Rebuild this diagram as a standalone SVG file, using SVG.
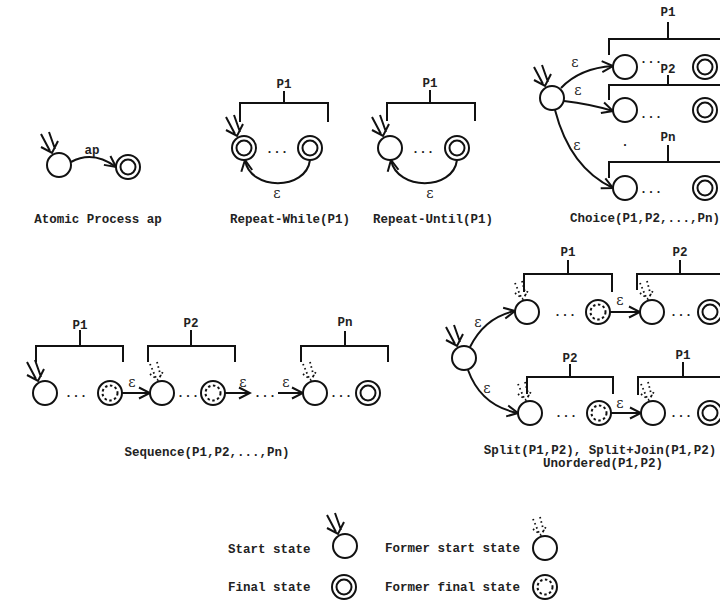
<svg xmlns="http://www.w3.org/2000/svg" xmlns:xlink="http://www.w3.org/1999/xlink" width="720" height="600" viewBox="0 0 720 600">
<style>
.s{fill:none;stroke:#111;stroke-width:2}
.w{fill:#fff;stroke:#111;stroke-width:2}
.d{fill:none;stroke:#111;stroke-width:2;stroke-dasharray:2.5 2.5}
.dm{fill:none;stroke:#111;stroke-width:1.8;stroke-dasharray:1.6 2.8}
.t{font-family:"Liberation Mono","Courier New",monospace;font-weight:bold;font-size:12.5px;fill:#222}
.c{text-anchor:middle}
.e{font-family:"DejaVu Serif","Liberation Serif",serif;font-size:14px;fill:#222;text-anchor:middle}
</style>
<defs>
<marker id="a" markerWidth="14" markerHeight="14" refX="12" refY="7" orient="auto" markerUnits="userSpaceOnUse"><path d="M1,1.5 L12,7 L1,12.5" fill="none" stroke="#111" stroke-width="2"/></marker>
<path id="sm" class="s" d="M-18,-31 L-9,-14 M-10,-33 L-4,-16 M-18,-18 L-7,-12 L-1,-24"/>
<path id="fm" class="dm" d="M-12,-29 L-6,-15 M-5,-31 L-1,-16 M-12,-19 L-4,-13 L2,-23"/>
<g id="pl"><circle r="12" class="w"/></g>
<g id="ss"><use xlink:href="#sm"/><circle r="12" class="w"/></g>
<g id="fs"><circle r="12" class="w"/><circle r="7.5" class="s"/></g>
<g id="sfs"><use xlink:href="#sm"/><circle r="12" class="w"/><circle r="7.5" class="s"/></g>
<g id="fss"><use xlink:href="#fm"/><circle r="12" class="w"/></g>
<g id="ffs"><circle r="12" class="w"/><circle r="7.5" class="d"/></g>
</defs>
<rect width="720" height="600" fill="#fff"/>

<g id="brackets">
<path class="s" d="M240,122 V103 H328 V122 M284,103 V91"/>
<path class="s" d="M387,121 V103 H475 V121 M430,103 V90"/>
<path class="s" d="M609,55 V39 H730 M668,39 V22"/>
<path class="s" d="M609,100 V85 H730 M668,85 V75"/>
<path class="s" d="M609,178 V162 H730 M668,162 V145"/>
<path class="s" d="M36,362 V346 H123 V362 M80,346 V330"/>
<path class="s" d="M148,362 V346 H235 V362 M191,346 V330"/>
<path class="s" d="M301,362 V346 H388 V362 M345,346 V331"/>
<path class="s" d="M524,292 V274 H612 V292 M568,274 V260"/>
<path class="s" d="M637,290 V274 H730 M680,274 V260"/>
<path class="s" d="M527,394 V377 H613 V394 M570,377 V364"/>
<path class="s" d="M638,395 V377 H730 M683,377 V362"/>
</g>

<g id="connectors">
<path class="s" marker-end="url(#a)" d="M71,162 Q93,150 116,167"/>
<path class="s" marker-end="url(#a)" d="M310,160 C306,191 250,191 245,160"/>
<path class="s" marker-end="url(#a)" d="M457,160 C453,191 397,191 391,160"/>
<path class="s" marker-end="url(#a)" d="M561,88 Q580,68 613,66"/>
<path class="s" marker-end="url(#a)" d="M564,101 Q590,104 613,111"/>
<path class="s" marker-end="url(#a)" d="M555,110 Q570,168 613,188"/>
<path class="s" marker-end="url(#a)" d="M122,393 H150"/>
<path class="s" marker-end="url(#a)" d="M225,393 H250"/>
<path class="s" marker-end="url(#a)" d="M278,393 H303"/>
<path class="s" marker-end="url(#a)" d="M470,347 Q485,317 515,311"/>
<path class="s" marker-end="url(#a)" d="M468,370 Q481,406 518,413"/>
<path class="s" marker-end="url(#a)" d="M610,312 H640"/>
<path class="s" marker-end="url(#a)" d="M611,413 H641"/>
</g>

<g id="atomic-start"><use xlink:href="#ss" x="59" y="165"/></g>
<g id="atomic-final"><use xlink:href="#fs" x="128" y="167"/></g>

<g id="rw-start"><use xlink:href="#sfs" x="244" y="148"/></g>
<g id="rw-final"><use xlink:href="#fs" x="310" y="148"/></g>

<g id="ru-start"><use xlink:href="#ss" x="390" y="148"/></g>
<g id="ru-final"><use xlink:href="#fs" x="457" y="148"/></g>

<g id="ch-start"><use xlink:href="#ss" x="552" y="98"/></g>
<g id="ch-p1-start"><use xlink:href="#pl" x="625" y="67"/></g>
<g id="ch-p1-final"><use xlink:href="#fs" x="705" y="67"/></g>
<g id="ch-p2-start"><use xlink:href="#pl" x="625" y="110"/></g>
<g id="ch-p2-final"><use xlink:href="#fs" x="705" y="110"/></g>
<g id="ch-pn-start"><use xlink:href="#pl" x="625" y="188"/></g>
<g id="ch-pn-final"><use xlink:href="#fs" x="705" y="188"/></g>

<g id="sq-p1-start"><use xlink:href="#ss" x="45" y="393"/></g>
<g id="sq-p1-final"><use xlink:href="#ffs" x="110" y="393"/></g>
<g id="sq-p2-start"><use xlink:href="#fss" x="162" y="393"/></g>
<g id="sq-p2-final"><use xlink:href="#ffs" x="213" y="393"/></g>
<g id="sq-pn-start"><use xlink:href="#fss" x="315" y="393"/></g>
<g id="sq-pn-final"><use xlink:href="#fs" x="368" y="393"/></g>

<g id="sp-start"><use xlink:href="#ss" x="464" y="358"/></g>
<g id="sp-a-p1-start"><use xlink:href="#fss" x="527" y="312"/></g>
<g id="sp-a-p1-final"><use xlink:href="#ffs" x="598" y="312"/></g>
<g id="sp-a-p2-start"><use xlink:href="#fss" x="652" y="312"/></g>
<g id="sp-a-p2-final"><use xlink:href="#fs" x="710" y="312"/></g>
<g id="sp-b-p2-start"><use xlink:href="#fss" x="530" y="413"/></g>
<g id="sp-b-p2-final"><use xlink:href="#ffs" x="599" y="413"/></g>
<g id="sp-b-p1-start"><use xlink:href="#fss" x="653" y="413"/></g>
<g id="sp-b-p1-final"><use xlink:href="#fs" x="710" y="413"/></g>

<g id="lg-start"><use xlink:href="#ss" x="345" y="546"/></g>
<g id="lg-final"><use xlink:href="#fs" x="344" y="587"/></g>
<g id="lg-fstart"><use xlink:href="#fss" x="545" y="548"/></g>
<g id="lg-ffinal"><use xlink:href="#ffs" x="545" y="587"/></g>

<g id="labels">
<text class="t c" x="92" y="154">ap</text>
<text class="t c" x="284" y="88">P1</text>
<text class="t c" x="430" y="87">P1</text>
<text class="t c" x="668" y="16">P1</text>
<text class="t c" x="668" y="73">P2</text>
<text class="t c" x="668" y="141">Pn</text>
<text class="t c" x="80" y="329">P1</text>
<text class="t c" x="191" y="327">P2</text>
<text class="t c" x="345" y="326">Pn</text>
<text class="t c" x="568" y="256">P1</text>
<text class="t c" x="680" y="256">P2</text>
<text class="t c" x="570" y="362">P2</text>
<text class="t c" x="683" y="359">P1</text>

<text class="t c" x="277" y="153">...</text>
<text class="t c" x="423" y="153">...</text>
<text class="t c" x="651" y="63">...</text>
<text class="t c" x="651" y="118">...</text>
<text class="t c" x="651" y="193">...</text>
<text class="t c" x="625" y="146">.</text>
<text class="t c" x="76" y="397">...</text>
<text class="t c" x="188" y="397">...</text>
<text class="t c" x="265" y="397">...</text>
<text class="t c" x="341" y="397">...</text>
<text class="t c" x="565" y="316">...</text>
<text class="t c" x="681" y="316">...</text>
<text class="t c" x="566" y="417">...</text>
<text class="t c" x="681" y="417">...</text>

<text class="e" x="277" y="198">ε</text>
<text class="e" x="430" y="198">ε</text>
<text class="e" x="575" y="67">ε</text>
<text class="e" x="578" y="95">ε</text>
<text class="e" x="577" y="150">ε</text>
<text class="e" x="132" y="387">ε</text>
<text class="e" x="243" y="387">ε</text>
<text class="e" x="286" y="387">ε</text>
<text class="e" x="478" y="327">ε</text>
<text class="e" x="487" y="393">ε</text>
<text class="e" x="620" y="305">ε</text>
<text class="e" x="620" y="408">ε</text>

<text class="t c" x="98" y="223">Atomic Process ap</text>
<text class="t c" x="290" y="223">Repeat-While(P1)</text>
<text class="t c" x="433" y="223">Repeat-Until(P1)</text>
<text class="t c" x="645" y="222">Choice(P1,P2,...,Pn)</text>
<text class="t c" x="207" y="456">Sequence(P1,P2,...,Pn)</text>
<text class="t c" x="600" y="454">Split(P1,P2), Split+Join(P1,P2)</text>
<text class="t c" x="603" y="467">Unordered(P1,P2)</text>

<text class="t" x="228" y="553">Start state</text>
<text class="t" x="228" y="591">Final state</text>
<text class="t" x="385" y="552">Former start state</text>
<text class="t" x="385" y="591">Former final state</text>
</g>
</svg>
